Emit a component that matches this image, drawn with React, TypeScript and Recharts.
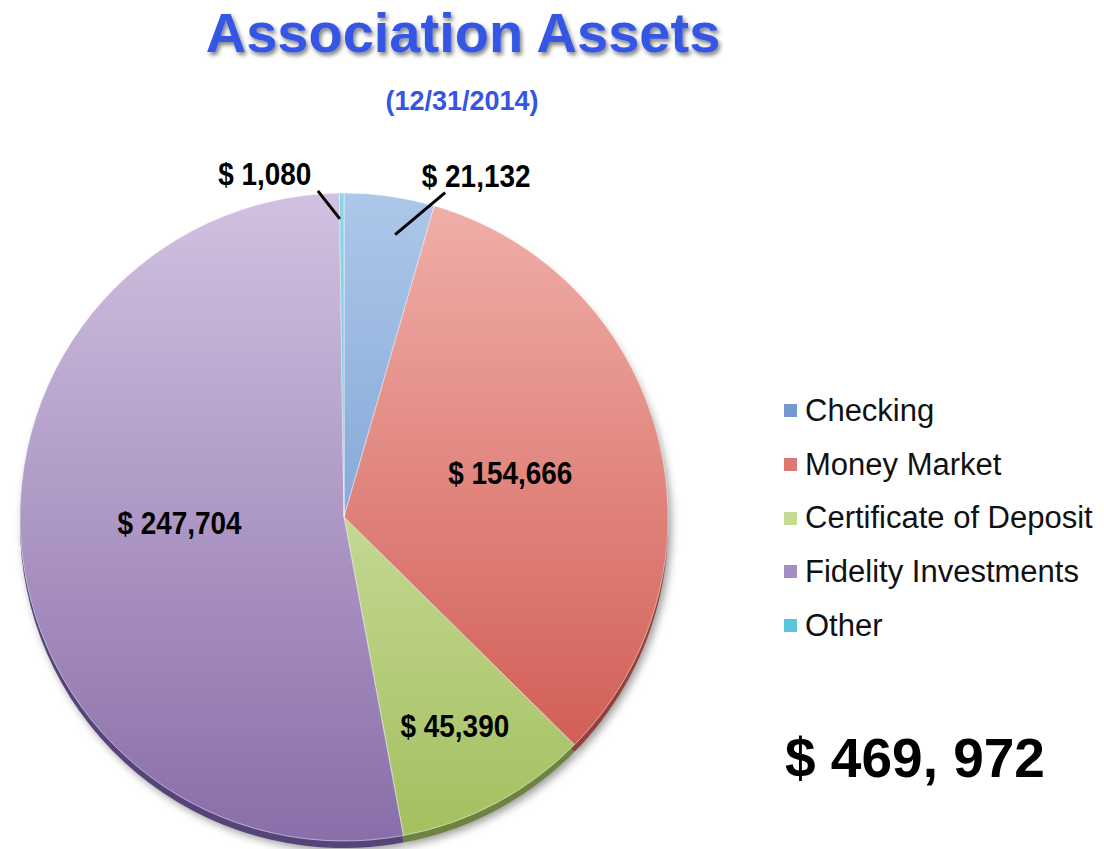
import { PieChart, Pie, Cell, Legend } from "recharts";

const CATEGORIES = ["Checking", "Money Market", "Certificate of Deposit", "Fidelity Investments", "Other"];
const VALUES = [21132, 154666, 45390, 247704, 1080];
const TITLE = "Association Assets";
const SUBTITLE = "(12/31/2014)";

const TOP_COLORS = ["#adc7e9", "#f1b0aa", "#e4f1c6", "#d2c1e0", "#8ad8ea"];
const BOTTOM_COLORS = ["#5f8cc8", "#cc5148", "#a3bf5e", "#896ea9", "#45b4cd"];
const RIM_COLORS = ["#4a6a99", "#93403a", "#6c8440", "#54447a", "#3a8fa3"];
const LEGEND_COLORS = ["#7399d0", "#de7770", "#c4db90", "#a58cc4", "#5cc4dc"];

const data = CATEGORIES.map((name, i) => ({ name, value: VALUES[i] }));
const total = VALUES.reduce((s, v) => s + v, 0);

const fmt = (v: number) => "$ " + v.toLocaleString("en-US");
const fmtTotal = (v: number) => {
  const thousands = Math.floor(v / 1000);
  const rest = String(v % 1000).padStart(3, "0");
  return `$ ${thousands}, ${rest}`;
};

const CX = 344;
const CY = 517;
const R = 324;
const RADIAN = Math.PI / 180;

const font = "'Liberation Sans', Arial, sans-serif";

// inside labels: fraction of radius; outside labels: leader line + text offsets
const LABEL_POS: Record<number, any> = {
  0: { start: 0.88, ox: 11, dx: 50, dy: -42, tx: 31, ty: -17 },
  1: { inside: 0.53, ox: 0, oy: -1 },
  2: { inside: 0.73, ox: 0, oy: 0 },
  3: { inside: 0.51, ox: 0, oy: -10 },
  4: { start: 0.92, ox: -2, dx: -22, dy: -28, tx: -53, ty: -17 },
};

function LabelText({ x, y, children }: { x: number; y: number; children: any }) {
  return (
    <text transform={`translate(${x},${y}) scale(0.9,1)`} textAnchor="middle" dominantBaseline="central"
      fontFamily={font} fontWeight="bold" fontSize={31} fill="#000">
      {children}
    </text>
  );
}

function renderLabel(props: any) {
  const { cx, cy, midAngle, outerRadius, index, value } = props;
  const cfg = LABEL_POS[index];
  const pt = (r: number) => ({
    x: cx + r * Math.cos(-midAngle * RADIAN),
    y: cy + r * Math.sin(-midAngle * RADIAN),
  });
  if (cfg.inside) {
    const p = pt(outerRadius * cfg.inside);
    return <LabelText x={p.x + cfg.ox} y={p.y + cfg.oy}>{fmt(value)}</LabelText>;
  }
  const p0 = pt(outerRadius * cfg.start);
  const s = { x: p0.x + cfg.ox, y: p0.y };
  const e = { x: s.x + cfg.dx, y: s.y + cfg.dy };
  return (
    <g>
      <line x1={s.x} y1={s.y} x2={e.x} y2={e.y} stroke="#000" strokeWidth={3} />
      <LabelText x={e.x + cfg.tx} y={e.y + cfg.ty}>{fmt(value)}</LabelText>
    </g>
  );
}

function renderLegend() {
  return (
    <div style={{ fontFamily: font }}>
      {CATEGORIES.map((c, i) => (
        <div key={c} style={{ display: "flex", alignItems: "center", height: 53.7, fontSize: 31, color: "#111" }}>
          <span style={{ display: "inline-block", width: 13, height: 13, background: LEGEND_COLORS[i], marginRight: 8 }} />
          {c}
        </div>
      ))}
    </div>
  );
}

export default function App() {
  return (
    <div style={{ position: "absolute", left: 0, top: 0, width: 1104, height: 849, background: "#fff" }}>
      <PieChart width={1104} height={849} margin={{ top: 0, right: 0, bottom: 0, left: 0 }}>
        <defs>
          {CATEGORIES.map((c, i) => (
            <linearGradient key={c} id={`grad${i}`} gradientUnits="userSpaceOnUse" x1={0} y1={CY - R} x2={0} y2={CY + R}>
              <stop offset="0%" stopColor={TOP_COLORS[i]} />
              <stop offset="100%" stopColor={BOTTOM_COLORS[i]} />
            </linearGradient>
          ))}
          <filter id="shadow" x="-10%" y="-10%" width="120%" height="120%">
            <feGaussianBlur stdDeviation="4" />
          </filter>
          <filter id="tshadow" x="-5%" y="-20%" width="110%" height="150%">
            <feDropShadow dx="2" dy="3" stdDeviation="2" floodColor="#000" floodOpacity="0.5" />
          </filter>
        </defs>
        <text x={463} y={52} textAnchor="middle" fontFamily={font}
          fontWeight="bold" fontSize={56} fill="#3456e4" filter="url(#tshadow)">
          {TITLE}
        </text>
        <text x={462} y={110} textAnchor="middle" fontFamily={font}
          fontWeight="bold" fontSize={27} fill="#3456e4">
          {SUBTITLE}
        </text>
        <Pie
          data={data}
          dataKey="value"
          nameKey="name"
          cx={CX + 3}
          cy={CY + 10}
          outerRadius={R}
          startAngle={90}
          endAngle={-270}
          stroke="none"
          isAnimationActive={false}
          legendType="none"
          style={{ filter: "url(#shadow)" }}
        >
          {data.map((_, i) => (
            <Cell key={i} fill="#9a9a9a" />
          ))}
        </Pie>
        <Pie
          data={data}
          dataKey="value"
          nameKey="name"
          cx={CX}
          cy={CY + 7}
          outerRadius={R}
          startAngle={90}
          endAngle={-270}
          stroke="none"
          isAnimationActive={false}
          legendType="none"
        >
          {data.map((_, i) => (
            <Cell key={i} fill={RIM_COLORS[i]} />
          ))}
        </Pie>
        <Pie
          data={data}
          dataKey="value"
          nameKey="name"
          cx={CX}
          cy={CY}
          outerRadius={R}
          startAngle={90}
          endAngle={-270}
          stroke="#ffffff"
          strokeWidth={0.5}
          isAnimationActive={false}
          label={renderLabel}
          labelLine={false}
        >
          {data.map((_, i) => (
            <Cell key={i} fill={`url(#grad${i})`} />
          ))}
        </Pie>
        <Legend
          layout="vertical"
          align="right"
          verticalAlign="top"
          content={renderLegend}
          wrapperStyle={{ position: "absolute", left: 784, top: 384, width: 320 }}
        />
        <text x={785} y={777} fontFamily={font} fontWeight="bold" fontSize={55} fill="#000">
          {fmtTotal(total)}
        </text>
      </PieChart>
    </div>
  );
}
